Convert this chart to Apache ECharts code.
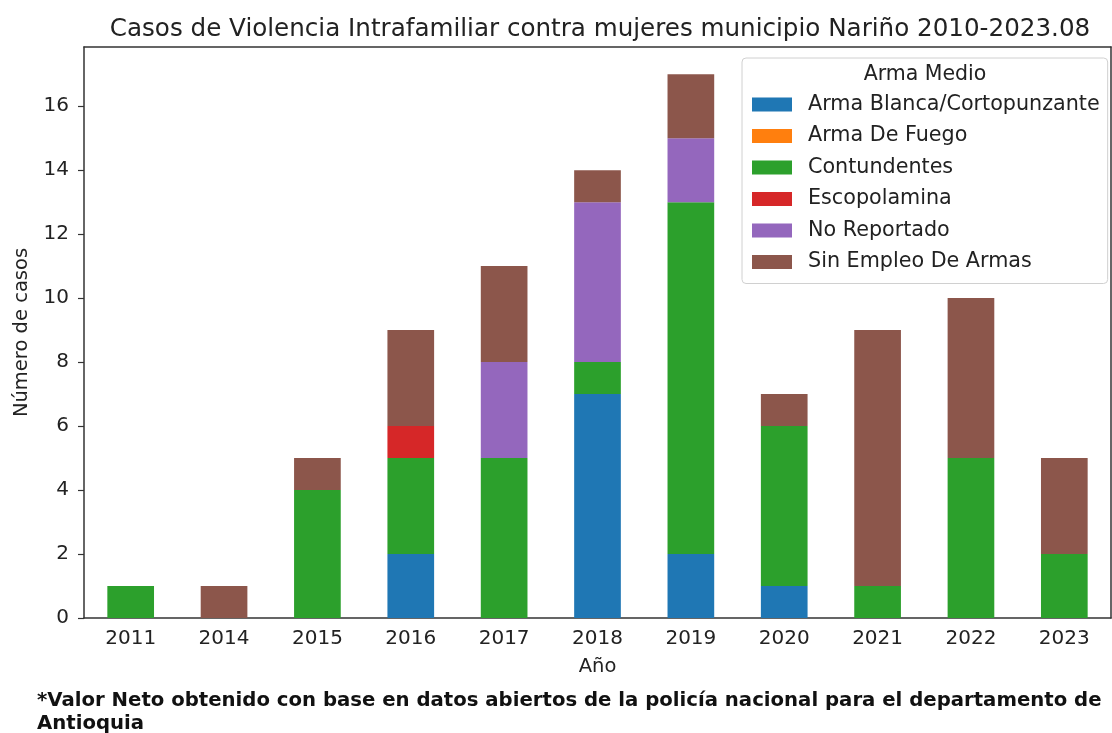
<!DOCTYPE html>
<html>
<head>
<meta charset="utf-8">
<script src="https://cdn.jsdelivr.net/npm/echarts@6/dist/echarts.min.js"></script>
<style>html,body{margin:0;padding:0;background:#fff}#c{width:1112px;height:733px}</style>
</head>
<body>
<div id="c"></div>
<script>
const years = ['2011','2014','2015','2016','2017','2018','2019','2020','2021','2022','2023'];
const armaBlanca   = [0,0,0,2,0,7,2,1,0,0,0];
const armaFuego    = [0,0,0,0,0,0,0,0,0,0,0];
const contundentes = [1,0,4,3,5,1,11,5,1,5,2];
const escopolamina = [0,0,0,1,0,0,0,0,0,0,0];
const noReportado  = [0,0,0,0,3,5,2,0,0,0,0];
const sinEmpleo    = [0,1,1,3,3,1,2,1,8,5,3];
const yTicks = [0,2,4,6,8,10,12,14,16];

const seriesDefs = [
  ['Arma Blanca/Cortopunzante', armaBlanca, '#1f77b4'],
  ['Arma De Fuego', armaFuego, '#ff7f0e'],
  ['Contundentes', contundentes, '#2ca02c'],
  ['Escopolamina', escopolamina, '#d62728'],
  ['No Reportado', noReportado, '#9467bd'],
  ['Sin Empleo De Armas', sinEmpleo, '#8c564b']
];

const font = 'DejaVu Sans';
const chart = echarts.init(document.getElementById('c'), null, {renderer: 'canvas'});
chart.setOption({
  animation: false,
  textStyle: {fontFamily: font},
  title: {
    text: 'Casos de Violencia Intrafamiliar contra mujeres municipio Nariño 2010-2023.08',
    left: 595, top: 12, textAlign: 'center',
    textStyle: {fontFamily: font, fontSize: 24.6, fontWeight: 'normal', color: '#222'}
  },
  grid: {left: 84, right: 1, top: 47, bottom: 115, containLabel: false},
  legend: {
    orient: 'vertical', left: 742, top: 58,
    padding: [36, 8, 11, 10],
    itemWidth: 40, itemHeight: 14, itemGap: 10.5,
    borderColor: '#d0d0d0', borderWidth: 1, borderRadius: 4,
    backgroundColor: '#fff',
    icon: 'rect',
    textStyle: {fontFamily: font, fontSize: 20.7, lineHeight: 20, color: '#222', padding: [0,0,0,11]},
    data: seriesDefs.map(d => d[0])
  },
  xAxis: [{
    type: 'category', data: years,
    name: 'Año', nameLocation: 'middle', nameGap: 39,
    nameTextStyle: {fontFamily: font, fontSize: 19.5, color: '#222'},
    axisLine: {lineStyle: {color: '#333', width: 1.5}},
    axisTick: {alignWithLabel: true, length: 6, inside: false, lineStyle: {color: '#333', width: 1.2}},
    axisLabel: {fontFamily: font, fontSize: 20, color: '#222', margin: 11}
  }, {
    type: 'category', data: years, position: 'top',
    axisLine: {show: true, onZero: false, lineStyle: {color: '#333', width: 1.5}},
    axisTick: {show: false}, axisLabel: {show: false}
  }],
  yAxis: [{
    type: 'value', min: 0, max: 17.85,
    name: 'Número de casos', nameLocation: 'middle', nameGap: 52, nameRotate: 90,
    nameTextStyle: {fontFamily: font, fontSize: 19.5, color: '#222'},
    axisLine: {show: true, lineStyle: {color: '#333', width: 1.5}},
    axisTick: {show: true, length: 6, customValues: yTicks, lineStyle: {color: '#333', width: 1.2}},
    axisLabel: {fontFamily: font, fontSize: 20, color: '#222', margin: 15, customValues: yTicks},
    splitLine: {show: false}
  }, {
    type: 'value', min: 0, max: 17.85, position: 'right',
    axisLine: {show: true, lineStyle: {color: '#333', width: 1.5}},
    axisTick: {show: false}, axisLabel: {show: false}, splitLine: {show: false}
  }],
  series: seriesDefs.map(d => ({
    name: d[0], type: 'bar', stack: 'total', data: d[1],
    barWidth: '50%', itemStyle: {color: d[2]}
  })),
  graphic: [{
    type: 'text', x: 925, y: 75, z: 100, zlevel: 1,
    style: {text: 'Arma Medio', fontFamily: font, fontSize: 20.5, fill: '#222', align: 'center', verticalAlign: 'middle'}
  }, {
    type: 'text', left: 37, top: 689,
    style: {
      text: '*Valor Neto obtenido con base en datos abiertos de la policía nacional para el departamento de\nAntioquia',
      fontFamily: font, fontSize: 19.7, fontWeight: 'bold', lineHeight: 23, fill: '#111'
    }
  }]
});
</script>
</body>
</html>
